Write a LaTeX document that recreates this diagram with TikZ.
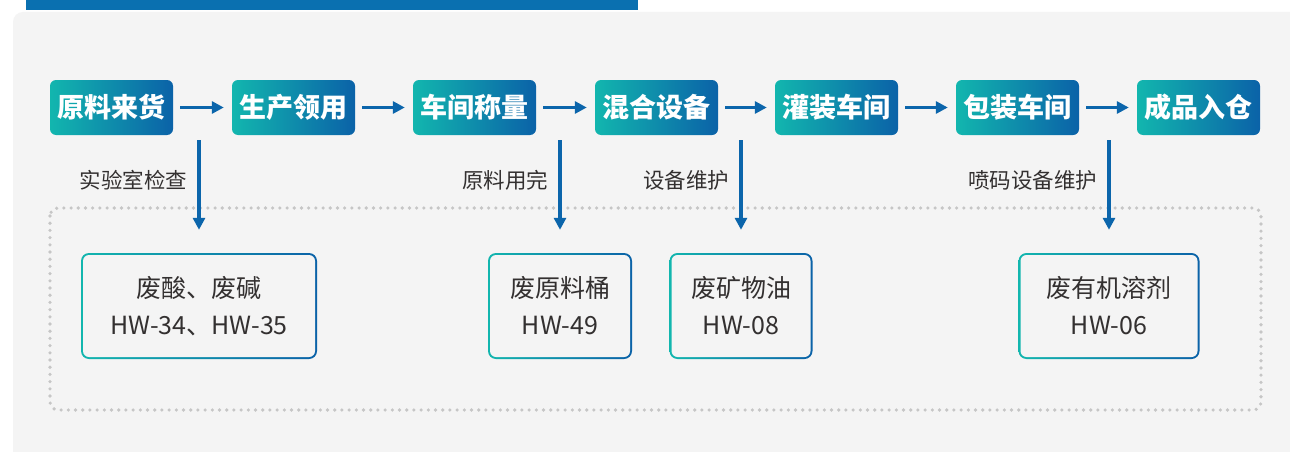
\documentclass[tikz,border=0pt]{standalone}
\usepackage{fontspec}
\setmainfont{Noto Sans CJK SC}
\usetikzlibrary{arrows.meta}
\definecolor{tealc}{HTML}{12B6AE}
\definecolor{bluec}{HTML}{0B62A8}
\definecolor{arrowc}{HTML}{0B65AB}
\definecolor{barc}{HTML}{0A70B0}
\definecolor{panelbg}{HTML}{F4F4F4}
\definecolor{dotc}{HTML}{C6C6C6}
\definecolor{txt}{HTML}{333030}
\tikzset{
  stepbox/.style={rounded corners=6pt, minimum width=123pt, minimum height=55pt, inner sep=0pt,
    left color=tealc, right color=bluec, text=white, font=\fontsize{27}{27}\selectfont\bfseries},
  wastebox/.style={rounded corners=8pt, minimum height=106pt, inner sep=0pt,
    left color=tealc, right color=bluec, text=txt, align=center, font=\fontsize{25}{37}\selectfont,
    path picture={\fill[panelbg, rounded corners=6pt]
      ([shift={(2pt,2pt)}]path picture bounding box.south west) rectangle
      ([shift={(-2pt,-2pt)}]path picture bounding box.north east);}},
  flow/.style={draw=arrowc, line width=3.5pt, -{Triangle[length=12pt,width=12pt]}},
  lbl/.style={text=txt, inner sep=0pt, font=\fontsize{21.5}{21.5}\selectfont}
}
\begin{document}
\begin{tikzpicture}[x=1pt,y=-1pt]
\useasboundingbox (0,0) rectangle (1290,452);
\fill[white] (0,0) rectangle (1290,452);
\fill[panelbg] (13,452) [rounded corners=10pt] -- (13,12) [sharp corners] -- (1290,12) -- (1290,452) -- cycle;
\fill[barc] (26,0) rectangle (638,10);
% process steps
\node[stepbox] (s1) at (111.5,107.5) {原料来货};
\node[stepbox] (s2) at (293.5,107.5) {生产领用};
\node[stepbox] (s3) at (474.5,107.5) {车间称量};
\node[stepbox] (s4) at (656.5,107.5) {混合设备};
\node[stepbox] (s5) at (836.5,107.5) {灌装车间};
\node[stepbox] (s6) at (1017.5,107.5) {包装车间};
\node[stepbox] (s7) at (1198.5,107.5) {成品入仓};
\draw[flow, shorten <=7pt, shorten >=8pt] (s1) -- (s2);
\draw[flow, shorten <=7pt, shorten >=8pt] (s2) -- (s3);
\draw[flow, shorten <=7pt, shorten >=8pt] (s3) -- (s4);
\draw[flow, shorten <=7pt, shorten >=8pt] (s4) -- (s5);
\draw[flow, shorten <=7pt, shorten >=8pt] (s5) -- (s6);
\draw[flow, shorten <=7pt, shorten >=8pt] (s6) -- (s7);
% waste area
\draw[dotc, line width=3.6pt, line cap=round, dash pattern=on 0pt off 7.2pt, rounded corners=8pt] (50,208) rectangle (1261,410);
\node[wastebox, minimum width=236pt] (w1) at (199,306) {废酸、废碱\\HW-34、HW-35};
\node[wastebox, minimum width=144pt] (w2) at (560,306) {废原料桶\\HW-49};
\node[wastebox, minimum width=143pt] (w3) at (741,306) {废矿物油\\HW-08};
\node[wastebox, minimum width=181pt] (w4) at (1109,306) {废有机溶剂\\HW-06};
\coordinate (d1) at (199,140);
\coordinate (d2) at (560,140);
\coordinate (d3) at (741,140);
\coordinate (d4) at (1109,140);
\draw[flow, shorten >=23pt] (d1) -- (d1 |- w1.north) node[pos=0.36, left=10pt, lbl] {实验室检查};
\draw[flow, shorten >=23pt] (d2) -- (d2 |- w2.north) node[pos=0.36, left=10pt, lbl] {原料用完};
\draw[flow, shorten >=23pt] (d3) -- (d3 |- w3.north) node[pos=0.36, left=10pt, lbl] {设备维护};
\draw[flow, shorten >=23pt] (d4) -- (d4 |- w4.north) node[pos=0.36, left=10pt, lbl] {喷码设备维护};
\end{tikzpicture}
\end{document}
